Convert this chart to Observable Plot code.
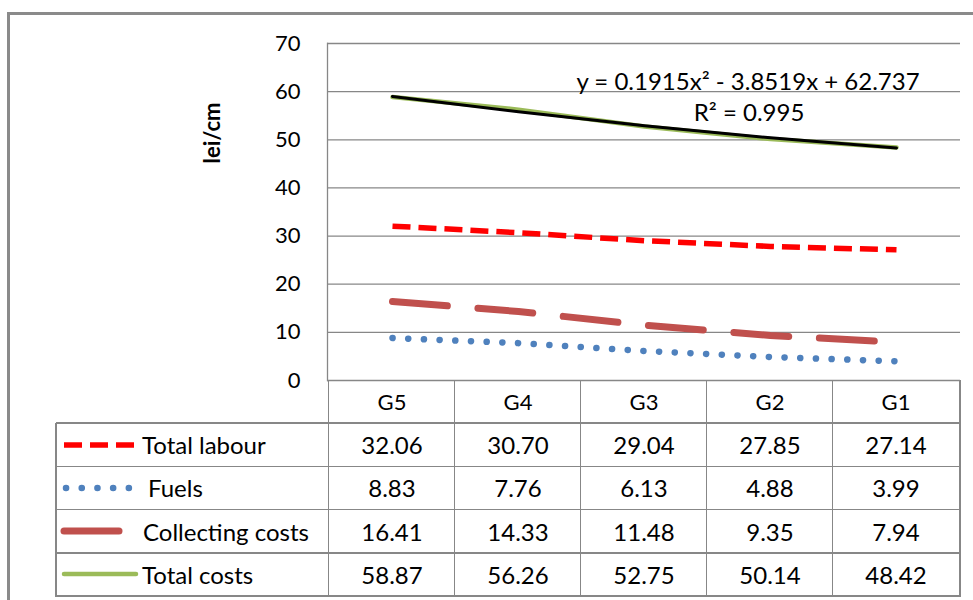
<!DOCTYPE html>
<html>
<head>
<meta charset="utf-8">
<script src="https://cdn.jsdelivr.net/npm/d3@7"></script>
<script src="https://cdn.jsdelivr.net/npm/@observablehq/plot@0.6"></script>
<style>
  html, body { margin: 0; padding: 0; background: #fff; }
  #wrap { position: relative; width: 973px; height: 600px; overflow: hidden; background: #fff; font-family: Lato, "Open Sans", sans-serif; color: #000; }
  #outer { position: absolute; left: 7px; top: 12px; width: 1000px; height: 700px; border-top: 3px solid #8a8a8a; border-left: 3px solid #8a8a8a; }
  #chart { position: absolute; left: 0; top: 0; }
  .abs { position: absolute; white-space: nowrap; }
  .hline, .vline { position: absolute; background: #878787; }
  .cell { position: absolute; display: flex; align-items: center; justify-content: center; font-size: 24px; }
  .lab { position: absolute; display: flex; align-items: center; font-size: 24px; }
</style>
</head>
<body>
<div id="wrap">
  <div id="outer"></div>
  <div id="chart"></div>
  <div id="ylabel" class="abs" style="left:211px;top:133px;transform:translate(-50%,-50%) rotate(-90deg);font-weight:bold;font-size:22px;"></div>
  <div id="eq" class="abs" style="left:748px;top:80px;transform:translate(-50%,-50%);font-size:24px;"></div>
  <div id="r2" class="abs" style="left:749px;top:111px;transform:translate(-50%,-50%);font-size:24px;"></div>
  <div id="table"></div>
</div>
<script>
// ---- data ----
const categories = ["G5", "G4", "G3", "G2", "G1"];
const seriesNames = ["Total labour", "Fuels", "Collecting costs", "Total costs"];
const totalLabour = [32.06, 30.70, 29.04, 27.85, 27.14];
const fuels = [8.83, 7.76, 6.13, 4.88, 3.99];
const collectingCosts = [16.41, 14.33, 11.48, 9.35, 7.94];
const totalCosts = [58.87, 56.26, 52.75, 50.14, 48.42];
const trendline = [59.0, 55.8, 52.9, 50.4, 48.3];
const yTicks = [0, 10, 20, 30, 40, 50, 60, 70];
const yLabel = "lei/cm";
const equationText = "y = 0.1915x² - 3.8519x + 62.737";
const r2Text = "R² = 0.995";

const seriesValues = [totalLabour, fuels, collectingCosts, totalCosts];

// ---- styles (kept apart from data) ----
const styles = {
  "Total labour": { stroke: "#FF0000", strokeWidth: 5.5, strokeDasharray: "18 8", strokeLinecap: "butt" },
  "Fuels": { stroke: "#4F81BD", strokeWidth: 6.5, strokeDasharray: "0.1 15.6", strokeLinecap: "round" },
  "Collecting costs": { stroke: "#C0504D", strokeWidth: 7, strokeDasharray: "55 30.7", strokeLinecap: "round" },
  "Total costs": { stroke: "#9BBB59", strokeWidth: 4.5, strokeLinecap: "round" }
};
const labelOffsets = { "Total labour": 142, "Fuels": 148, "Collecting costs": 143, "Total costs": 142 };

const rows = (vals) => categories.map((c, i) => ({ cat: c, v: vals[i] }));

const W = 973, mL = 327, mR = 13, mT = 43, H = 382, mB = 2;

const chart = Plot.plot({
  width: W, height: H,
  marginLeft: mL, marginRight: mR, marginTop: mT, marginBottom: mB,
  style: { fontFamily: "Lato, 'Open Sans', sans-serif", background: "transparent", overflow: "visible" },
  x: { type: "point", domain: categories, padding: 0.5, axis: null },
  y: { domain: [0, 70], axis: null, label: null },
  marks: [
    Plot.ruleY(yTicks, { stroke: "#878787", strokeWidth: 1.3 }),
    Plot.frame({ anchor: "left", stroke: "#878787", strokeWidth: 1.3 }),
    Plot.axisY({ ticks: yTicks, tickSize: 0, tickPadding: 27, fontSize: 22, fill: "#000", label: null, tickFormat: d => String(d) }),
    ...seriesNames.map((name, k) => Plot.line(rows(seriesValues[k]), { x: "cat", y: "v", ...styles[name] })),
    Plot.line(rows(trendline), { x: "cat", y: "v", stroke: "#000", strokeWidth: 3, curve: "natural" })
  ]
});
document.getElementById("chart").appendChild(chart);
document.getElementById("ylabel").textContent = yLabel;
document.getElementById("eq").textContent = equationText;
document.getElementById("r2").textContent = r2Text;

// ---- data table below the plot ----
const tbl = document.getElementById("table");
const xs = chart.scale("x");
const step = (W - mL - mR) / categories.length;
const colEdges = [56].concat(categories.map((c, i) => xs.apply(c) - step / 2)).concat([W - mR]);
const top0 = 380, rowH = 43.2;
const rowEdges = d3.range(seriesNames.length + 2).map(i => top0 + i * rowH);

function line(cls, x, y, w, h) {
  const d = document.createElement("div");
  d.className = cls;
  d.style.left = x + "px"; d.style.top = y + "px"; d.style.width = w + "px"; d.style.height = h + "px";
  tbl.appendChild(d);
}
rowEdges.forEach((y, i) => {
  if (i === 0) return; // the 0 gridline is drawn by the plot
  line("hline", 56, y - 0.75, (W - mR) - 56, 1.5);
});
colEdges.forEach((x, j) => {
  const yStart = j === 0 ? rowEdges[1] : rowEdges[0];
  line("vline", x - 0.75, yStart, 1.5, rowEdges[rowEdges.length - 1] - yStart + 0.75);
});
categories.forEach((c, i) => {
  const d = document.createElement("div");
  d.className = "cell";
  d.style.fontSize = "22px";
  d.style.left = colEdges[i + 1] + "px"; d.style.width = step + "px";
  d.style.top = rowEdges[0] + "px"; d.style.height = rowH + "px";
  d.textContent = c;
  tbl.appendChild(d);
});
seriesNames.forEach((name, k) => {
  const y0 = rowEdges[k + 1];
  seriesValues[k].forEach((v, i) => {
    const d = document.createElement("div");
    d.className = "cell";
    d.style.left = colEdges[i + 1] + "px"; d.style.width = step + "px";
    d.style.top = y0 + "px"; d.style.height = rowH + "px";
    d.textContent = v.toFixed(2);
    tbl.appendChild(d);
  });
  const s = styles[name];
  const keyLen = name === "Collecting costs" ? 56 : (name === "Fuels" ? 70 : 72);
  const svg = d3.create("svg").attr("width", 90).attr("height", 20)
    .style("position", "absolute").style("left", "60px").style("top", (y0 + rowH / 2 - 10) + "px");
  svg.append("line").attr("x1", name === "Fuels" ? 6 : 4).attr("x2", 4 + keyLen).attr("y1", 10).attr("y2", 10)
    .attr("stroke", s.stroke).attr("stroke-width", s.strokeWidth)
    .attr("stroke-dasharray", s.strokeDasharray || null)
    .attr("stroke-linecap", s.strokeLinecap || "butt");
  tbl.appendChild(svg.node());
  const l = document.createElement("div");
  l.className = "lab";
  l.style.left = labelOffsets[name] + "px";
  l.style.top = y0 + "px"; l.style.height = rowH + "px";
  l.textContent = name;
  tbl.appendChild(l);
});
</script>
</body>
</html>
